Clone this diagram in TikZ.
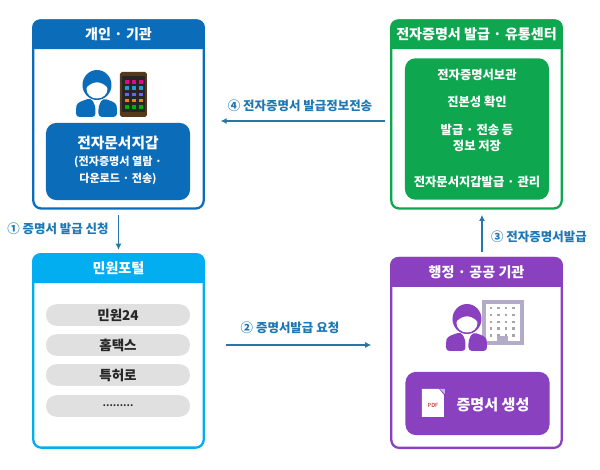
\documentclass[tikz,border=0pt]{standalone}
\usepackage{fontspec}
\setmainfont{Noto Sans CJK KR}
\usetikzlibrary{arrows.meta}
\definecolor{holderblue}{HTML}{0B6CBA}
\definecolor{centergreen}{HTML}{0FA650}
\definecolor{portalcyan}{HTML}{02AEEF}
\definecolor{officepurple}{HTML}{8A41C0}
\definecolor{pillgray}{HTML}{E0E0E0}
\definecolor{flowblue}{HTML}{2477A8}
\definecolor{labelblue}{HTML}{1F78B4}
\definecolor{towergray}{HTML}{B3ACC9}
\tikzset{
	panel/.style={draw, line width=1.3pt, rounded corners=4.5pt, minimum width=97pt, inner sep=0pt},
	innerbox/.style={rounded corners=6pt, minimum width=82pt, inner sep=0pt},
	titletext/.style={text=white, font=\bfseries\fontsize{8}{9}\selectfont},
	boxtext/.style={text=white, align=center, font=\bfseries\fontsize{7}{9}\selectfont},
	pill/.style={fill=pillgray, rounded corners=6pt, minimum width=82pt, minimum height=12.3pt, inner sep=0pt, text=black!85, font=\bfseries\fontsize{7.7}{8}\selectfont},
	flowline/.style={flowblue, line width=0.6pt, -{Latex[length=3.4pt,width=3.4pt]}},
	flowlabel/.style={text=labelblue, font=\bfseries\fontsize{7.1}{8}\selectfont},
	person/.pic={
		\fill[pic actions] (0,0) ellipse (14.5 and 15);
		\fill[white] (0,4) ellipse (10.5 and 9.5);
		\fill[pic actions] (-11,3) .. controls (-6,-3) and (3,-6) .. (11,3) -- (10,-8) -- (-10,-8) -- cycle;
		\fill[pic actions, rounded corners=2pt] (-1.5,32) -- (-21,32) -- (-21,24) .. controls (-20,17) and (-12,15) .. (-6,13) -- (-1.5,21) -- cycle;
		\fill[pic actions, rounded corners=2pt] (1.5,32) -- (20,32) -- (20,24) .. controls (19,17) and (11,15) .. (6,13) -- (1.5,21) -- cycle;
	}
}
\begin{document}
\begin{tikzpicture}[x=0.02cm, y=-0.02cm]
	\useasboundingbox (0,0) rectangle (600,470);
	% four panels with their headers
	\foreach \name/\col/\cy/\tall/\cx/\title in {
		holder/holderblue/114.5/107/118.5/개인 · 기관,
		center/centergreen/114.5/107/476.5/전자증명서 발급 · 유통센터,
		portal/portalcyan/351/110/118.5/민원포털,
		office/officepurple/353/108/476.5/행정 · 공공 기관}
	{
		\node[panel, draw=\col, minimum height=\tall pt] (\name) at (\cx,\cy) {};
		\fill[\col, rounded corners=4.5pt] ([yshift=-17pt]\name.north west) |- (\name.north east) [sharp corners] -- ([yshift=-17pt]\name.north east) -- cycle;
		\node[titletext] (\name title) at ([yshift=-8.5pt]\name.north) {\title};
	}
	% inner boxes
	\node[innerbox, fill=holderblue, minimum height=44pt] (wallet) at (118,161.5) {};
	\node[boxtext, font=\bfseries\fontsize{8.4}{9}\selectfont] (wallet name) at (118,143) {전자문서지갑};
	\node[boxtext, font=\bfseries\fontsize{6.3}{9.7}\selectfont] (wallet note) at (118,170) {(전자증명서 열람 ·\\다운로드 · 전송)};
	\node[innerbox, fill=centergreen, minimum height=80.5pt] (store) at (477,129) {};
	\node[boxtext] (store a) at (477,75) {전자증명서보관};
	\node[boxtext] (store b) at (477,102) {진본성 확인};
	\node[boxtext] (store c) at (477,138) {발급 · 전송 등\\정보 저장};
	\node[boxtext] (store d) at (477,182) {전자문서지갑발급 · 관리};
	\node[innerbox, fill=officepurple, minimum height=36pt] (make) at (477.5,403.5) {};
	\node[boxtext, font=\bfseries\fontsize{8.6}{9}\selectfont] (make name) at (493,405) {증명서 생성};
	% portal list
	\node[pill] (minwon) at (118,315) {민원24};
	\node[pill] (hometax) at (118,345) {홈택스};
	\node[pill] (patent) at (118,375) {특허로};
	\node[pill, font=\bfseries\fontsize{5.2}{6}\selectfont] (etc) at (118,406) {………};
	% icons
	\pic[holderblue] at (97,85) {person};
	\fill[black!55!brown, rounded corners=1pt] (120,72) rectangle (147,117);
	\fill[black!85] (122,76) rectangle (145,112);
	\foreach \j/\rowcol in {0/magenta,1/cyan!80!black,2/blue!60!white,3/orange,4/green!70!black}
		\foreach \i in {0,1,2}
			\fill[\rowcol] (125+\i*7,80+\j*6.3) rectangle ++(4,3.6);
	\fill[towergray] (482,300) rectangle (524,345);
	\fill[white] (486,304) rectangle (520,341);
	\foreach \i in {0,1,2,3}
		\foreach \j in {0,1,2,3,4}
			\fill[gray!70] (490+\i*7.5,307+\j*6.8) rectangle ++(2.5,2.5);
	\fill[towergray] (497,336) rectangle (508,343);
	\pic[officepurple] at (467,319) {person};
	\fill[white] (422,389) -- (439,389) -- (444,395) -- (444,417) -- (422,417) -- cycle;
	\node[text=red!75!black, font=\fontsize{3.2}{4}\selectfont, inner sep=0pt] (pdf mark) at (433,405) {PDF};
	\fill[officepurple!40] (440,389) -- (445,389) -- (445,394) -- cycle;
	% connectors
	\draw[flowline, shorten <=3pt, shorten >=2pt] (holder.south) -- (portal.north);
	\draw[flowline, shorten <=12pt, shorten >=10.8pt] (portal.east |- 0,345) -- (office.west |- 0,345);
	\draw[flowline, shorten <=3pt, shorten >=3pt] (office.north -| 482,0) -- (center.south -| 482,0);
	\draw[flowline, shorten <=3pt, shorten >=9pt] (center.west |- 0,121) -- (holder.east |- 0,121);
	% connector labels
	\node[flowlabel] (step one) at (58,229) {① 증명서 발급 신청};
	\node[flowlabel] (step two) at (290,328) {② 증명서발급 요청};
	\node[flowlabel] (step three) at (539,237) {③ 전자증명서발급};
	\node[flowlabel] (step four) at (300,106) {④ 전자증명서 발급정보전송};
\end{tikzpicture}
\end{document}
